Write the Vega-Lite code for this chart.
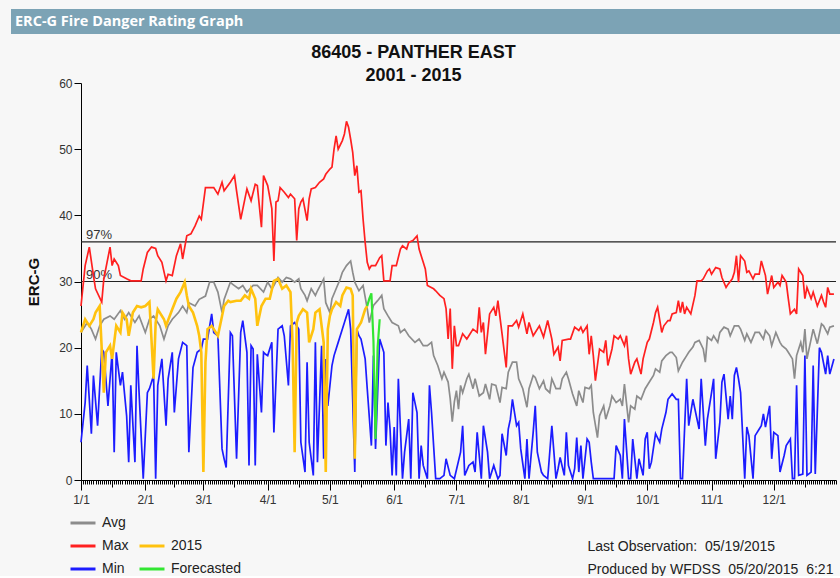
{
"$schema": "https://vega.github.io/schema/vega-lite/v6.json",
"background": "#f7f7f7",
"padding": {"left": 11, "top": 9, "right": 0, "bottom": 0},
"spacing": 10,
"datasets": {
"avg": [{"d":0,"v":22.3},{"d":3,"v":23.8},{"d":5,"v":22.8},{"d":7,"v":21.3},{"d":9,"v":23.3},{"d":11,"v":24.3},{"d":14,"v":24.8},{"d":16,"v":24.3},{"d":19,"v":25.6},{"d":21,"v":24.3},{"d":23,"v":25.3},{"d":26,"v":23.8},{"d":28,"v":24.8},{"d":31,"v":22.3},{"d":33,"v":24.3},{"d":35,"v":24.8},{"d":38,"v":23.3},{"d":40,"v":21.3},{"d":42,"v":23.3},{"d":44,"v":24.3},{"d":47,"v":25.3},{"d":49,"v":26.3},{"d":51,"v":25.3},{"d":52,"v":26.8},{"d":55,"v":26.3},{"d":57,"v":27.3},{"d":60,"v":27.8},{"d":62,"v":29.9},{"d":64,"v":29.9},{"d":66,"v":28.4},{"d":68,"v":25.3},{"d":69,"v":27.3},{"d":72,"v":29.9},{"d":73,"v":29.6},{"d":76,"v":28.9},{"d":78,"v":29.4},{"d":80,"v":28.4},{"d":83,"v":29.4},{"d":85,"v":29.4},{"d":88,"v":28.4},{"d":90,"v":29.9},{"d":92,"v":28.9},{"d":93,"v":29.4},{"d":95,"v":30.6},{"d":97,"v":29.9},{"d":99,"v":30.6},{"d":101,"v":30.4},{"d":103,"v":29.9},{"d":105,"v":30.4},{"d":106,"v":28.9},{"d":108,"v":27.9},{"d":109,"v":27.1},{"d":111,"v":28.9},{"d":113,"v":27.9},{"d":114,"v":28.6},{"d":117,"v":30.4},{"d":118,"v":26.8},{"d":120,"v":25.3},{"d":121,"v":27.4},{"d":123,"v":28.9},{"d":125,"v":30.4},{"d":126,"v":31.4},{"d":128,"v":32.4},{"d":130,"v":33.1},{"d":131,"v":31.4},{"d":132,"v":29.9},{"d":134,"v":28.6},{"d":136,"v":29.4},{"d":138,"v":25.9},{"d":139,"v":23.8},{"d":141,"v":26.4},{"d":143,"v":27.1},{"d":145,"v":27.9},{"d":146,"v":25.9},{"d":148,"v":24.8},{"d":150,"v":23.8},{"d":153,"v":23.3},{"d":154,"v":22.3},{"d":156,"v":22.8},{"d":158,"v":21.8},{"d":161,"v":20.8},{"d":163,"v":21.3},{"d":165,"v":20.3},{"d":167,"v":20.3},{"d":169,"v":20.8},{"d":170,"v":18.8},{"d":172,"v":17.3},{"d":174,"v":15.3},{"d":175,"v":16.3},{"d":177,"v":14.8},{"d":178,"v":12.3},{"d":179,"v":8.8},{"d":180,"v":11.8},{"d":181,"v":13.5},{"d":182,"v":10.7},{"d":183,"v":14.3},{"d":184,"v":13.2},{"d":186,"v":15.3},{"d":187,"v":16.0},{"d":189,"v":13.8},{"d":190,"v":15.3},{"d":192,"v":12.7},{"d":194,"v":13.2},{"d":195,"v":14.5},{"d":197,"v":12.2},{"d":198,"v":14.5},{"d":200,"v":14.3},{"d":202,"v":11.7},{"d":203,"v":14.0},{"d":205,"v":13.8},{"d":206,"v":16.3},{"d":208,"v":17.8},{"d":210,"v":17.8},{"d":211,"v":15.3},{"d":213,"v":13.8},{"d":215,"v":11.0},{"d":216,"v":13.8},{"d":218,"v":15.8},{"d":219,"v":15.5},{"d":221,"v":13.8},{"d":223,"v":15.0},{"d":224,"v":13.8},{"d":226,"v":13.2},{"d":227,"v":15.3},{"d":229,"v":13.8},{"d":231,"v":13.8},{"d":232,"v":15.3},{"d":234,"v":16.3},{"d":235,"v":15.3},{"d":237,"v":13.0},{"d":239,"v":11.2},{"d":240,"v":13.5},{"d":242,"v":11.7},{"d":243,"v":14.0},{"d":245,"v":13.8},{"d":246,"v":14.3},{"d":247,"v":10.2},{"d":249,"v":6.4},{"d":250,"v":9.7},{"d":252,"v":11.2},{"d":253,"v":9.2},{"d":255,"v":11.2},{"d":256,"v":12.7},{"d":258,"v":11.7},{"d":260,"v":12.2},{"d":261,"v":11.2},{"d":262,"v":14.5},{"d":264,"v":8.7},{"d":265,"v":11.2},{"d":267,"v":10.7},{"d":268,"v":12.7},{"d":270,"v":12.2},{"d":272,"v":13.8},{"d":274,"v":14.8},{"d":276,"v":15.8},{"d":277,"v":16.8},{"d":279,"v":16.3},{"d":280,"v":18.0},{"d":282,"v":18.8},{"d":284,"v":19.3},{"d":285,"v":19.3},{"d":287,"v":18.5},{"d":288,"v":16.5},{"d":290,"v":17.8},{"d":292,"v":18.8},{"d":293,"v":19.3},{"d":295,"v":20.1},{"d":296,"v":20.8},{"d":298,"v":21.1},{"d":300,"v":19.8},{"d":301,"v":17.8},{"d":302,"v":21.6},{"d":304,"v":21.1},{"d":305,"v":21.8},{"d":307,"v":20.8},{"d":308,"v":22.3},{"d":310,"v":23.1},{"d":312,"v":22.8},{"d":313,"v":21.8},{"d":315,"v":23.3},{"d":317,"v":23.3},{"d":318,"v":22.8},{"d":320,"v":21.1},{"d":321,"v":22.1},{"d":323,"v":20.8},{"d":325,"v":22.3},{"d":327,"v":22.3},{"d":329,"v":21.3},{"d":330,"v":22.6},{"d":332,"v":21.8},{"d":333,"v":20.3},{"d":335,"v":22.3},{"d":337,"v":20.8},{"d":338,"v":20.3},{"d":340,"v":19.8},{"d":341,"v":19.3},{"d":343,"v":18.3},{"d":344,"v":15.3},{"d":345,"v":18.8},{"d":347,"v":20.8},{"d":348,"v":19.3},{"d":349,"v":22.8},{"d":350,"v":18.3},{"d":352,"v":21.3},{"d":353,"v":22.8},{"d":355,"v":20.6},{"d":357,"v":23.6},{"d":358,"v":23.3},{"d":360,"v":22.1},{"d":361,"v":23.1},{"d":363,"v":23.3}],
"max": [{"d":0,"v":26.3},{"d":2,"v":32.4},{"d":4,"v":35.2},{"d":6,"v":30.9},{"d":7,"v":28.9},{"d":10,"v":26.9},{"d":11,"v":30.4},{"d":14,"v":35.2},{"d":15,"v":32.4},{"d":16,"v":33.4},{"d":18,"v":32.4},{"d":19,"v":30.9},{"d":22,"v":30.4},{"d":24,"v":30.1},{"d":29,"v":30.1},{"d":30,"v":31.9},{"d":32,"v":34.4},{"d":34,"v":35.2},{"d":36,"v":35.0},{"d":37,"v":33.9},{"d":39,"v":32.9},{"d":41,"v":30.1},{"d":42,"v":31.1},{"d":44,"v":30.9},{"d":46,"v":33.9},{"d":48,"v":35.7},{"d":49,"v":33.4},{"d":51,"v":36.9},{"d":53,"v":37.2},{"d":55,"v":38.4},{"d":57,"v":39.9},{"d":58,"v":39.4},{"d":60,"v":44.2},{"d":63,"v":44.2},{"d":64,"v":44.2},{"d":66,"v":43.2},{"d":68,"v":45.0},{"d":69,"v":43.7},{"d":72,"v":45.0},{"d":74,"v":46.0},{"d":75,"v":43.7},{"d":77,"v":39.4},{"d":80,"v":44.0},{"d":82,"v":42.2},{"d":84,"v":44.7},{"d":85,"v":44.5},{"d":87,"v":38.2},{"d":88,"v":46.0},{"d":90,"v":44.5},{"d":92,"v":41.0},{"d":93,"v":33.1},{"d":94,"v":42.0},{"d":95,"v":42.2},{"d":96,"v":44.2},{"d":98,"v":43.5},{"d":100,"v":42.7},{"d":101,"v":43.2},{"d":103,"v":42.5},{"d":104,"v":36.2},{"d":105,"v":41.0},{"d":106,"v":42.0},{"d":107,"v":42.5},{"d":109,"v":39.2},{"d":110,"v":42.5},{"d":111,"v":44.0},{"d":113,"v":44.2},{"d":115,"v":45.0},{"d":117,"v":45.5},{"d":118,"v":46.2},{"d":120,"v":47.0},{"d":121,"v":47.3},{"d":122,"v":50.0},{"d":123,"v":52.0},{"d":124,"v":50.0},{"d":126,"v":51.3},{"d":127,"v":52.3},{"d":128,"v":54.2},{"d":129,"v":53.3},{"d":130,"v":51.5},{"d":131,"v":49.5},{"d":132,"v":46.0},{"d":133,"v":47.5},{"d":134,"v":43.5},{"d":135,"v":43.7},{"d":136,"v":39.4},{"d":137,"v":35.9},{"d":138,"v":32.9},{"d":139,"v":31.9},{"d":140,"v":32.4},{"d":142,"v":32.4},{"d":144,"v":33.6},{"d":145,"v":33.9},{"d":146,"v":30.1},{"d":149,"v":30.1},{"d":150,"v":32.4},{"d":152,"v":32.4},{"d":154,"v":34.9},{"d":155,"v":35.4},{"d":157,"v":34.9},{"d":158,"v":35.9},{"d":160,"v":36.2},{"d":162,"v":36.9},{"d":163,"v":34.9},{"d":165,"v":32.9},{"d":166,"v":31.9},{"d":167,"v":29.4},{"d":170,"v":28.9},{"d":171,"v":28.6},{"d":173,"v":27.9},{"d":175,"v":27.4},{"d":176,"v":25.9},{"d":177,"v":21.3},{"d":178,"v":25.9},{"d":179,"v":16.8},{"d":180,"v":23.3},{"d":181,"v":20.3},{"d":182,"v":20.3},{"d":184,"v":22.1},{"d":186,"v":21.3},{"d":187,"v":21.8},{"d":189,"v":22.8},{"d":191,"v":22.3},{"d":192,"v":26.1},{"d":193,"v":22.3},{"d":194,"v":23.8},{"d":195,"v":19.0},{"d":197,"v":25.1},{"d":199,"v":26.1},{"d":200,"v":24.8},{"d":201,"v":27.1},{"d":203,"v":22.1},{"d":205,"v":17.0},{"d":206,"v":23.3},{"d":208,"v":23.3},{"d":210,"v":24.1},{"d":211,"v":23.1},{"d":213,"v":25.1},{"d":215,"v":22.1},{"d":216,"v":23.8},{"d":218,"v":21.8},{"d":219,"v":22.3},{"d":221,"v":23.3},{"d":223,"v":21.6},{"d":225,"v":24.1},{"d":227,"v":21.3},{"d":228,"v":19.0},{"d":230,"v":20.1},{"d":231,"v":18.0},{"d":232,"v":21.1},{"d":235,"v":21.3},{"d":236,"v":21.3},{"d":238,"v":23.1},{"d":240,"v":22.6},{"d":241,"v":23.1},{"d":242,"v":22.3},{"d":244,"v":23.3},{"d":245,"v":19.0},{"d":246,"v":21.8},{"d":247,"v":18.8},{"d":248,"v":15.0},{"d":250,"v":19.8},{"d":252,"v":19.3},{"d":253,"v":21.1},{"d":254,"v":17.3},{"d":256,"v":19.8},{"d":257,"v":21.8},{"d":259,"v":21.3},{"d":260,"v":21.8},{"d":262,"v":20.3},{"d":263,"v":21.8},{"d":264,"v":18.3},{"d":265,"v":16.0},{"d":267,"v":17.8},{"d":268,"v":18.3},{"d":270,"v":16.0},{"d":271,"v":18.3},{"d":273,"v":20.8},{"d":274,"v":21.3},{"d":276,"v":23.8},{"d":277,"v":25.3},{"d":278,"v":26.1},{"d":280,"v":22.3},{"d":281,"v":23.3},{"d":283,"v":24.1},{"d":284,"v":24.1},{"d":285,"v":25.1},{"d":287,"v":25.3},{"d":288,"v":27.1},{"d":289,"v":25.3},{"d":290,"v":26.9},{"d":291,"v":25.1},{"d":292,"v":26.1},{"d":294,"v":25.1},{"d":296,"v":27.9},{"d":297,"v":30.1},{"d":299,"v":30.1},{"d":300,"v":30.4},{"d":302,"v":31.6},{"d":303,"v":31.9},{"d":304,"v":31.1},{"d":306,"v":32.1},{"d":308,"v":31.9},{"d":309,"v":30.6},{"d":311,"v":29.1},{"d":312,"v":29.6},{"d":314,"v":30.4},{"d":315,"v":31.4},{"d":316,"v":33.9},{"d":317,"v":29.9},{"d":318,"v":33.9},{"d":320,"v":33.1},{"d":321,"v":31.4},{"d":322,"v":31.6},{"d":324,"v":30.4},{"d":325,"v":31.1},{"d":327,"v":31.1},{"d":328,"v":33.1},{"d":330,"v":30.9},{"d":331,"v":28.1},{"d":333,"v":30.9},{"d":334,"v":29.1},{"d":336,"v":29.9},{"d":337,"v":29.4},{"d":338,"v":30.9},{"d":340,"v":29.9},{"d":341,"v":27.4},{"d":342,"v":25.1},{"d":344,"v":25.8},{"d":345,"v":25.1},{"d":346,"v":31.9},{"d":348,"v":30.9},{"d":349,"v":27.4},{"d":350,"v":29.1},{"d":352,"v":27.4},{"d":353,"v":28.4},{"d":355,"v":26.3},{"d":357,"v":27.9},{"d":358,"v":26.9},{"d":359,"v":26.1},{"d":360,"v":29.1},{"d":361,"v":28.1},{"d":363,"v":28.1}],
"min": [{"d":0,"v":5.7},{"d":2,"v":11.7},{"d":3,"v":17.3},{"d":5,"v":7.0},{"d":6,"v":15.8},{"d":8,"v":8.2},{"d":10,"v":19.8},{"d":11,"v":19.3},{"d":13,"v":11.2},{"d":15,"v":19.3},{"d":16,"v":4.2},{"d":17,"v":19.3},{"d":19,"v":14.3},{"d":20,"v":16.3},{"d":22,"v":9.7},{"d":23,"v":2.7},{"d":24,"v":14.3},{"d":26,"v":2.7},{"d":27,"v":20.3},{"d":28,"v":13.2},{"d":30,"v":0.2},{"d":32,"v":13.2},{"d":33,"v":13.8},{"d":35,"v":15.8},{"d":36,"v":0.2},{"d":37,"v":14.3},{"d":39,"v":18.3},{"d":41,"v":8.2},{"d":42,"v":15.3},{"d":44,"v":19.3},{"d":45,"v":10.2},{"d":47,"v":18.3},{"d":49,"v":20.8},{"d":51,"v":20.3},{"d":52,"v":4.2},{"d":54,"v":17.0},{"d":56,"v":19.3},{"d":58,"v":19.8},{"d":59,"v":21.3},{"d":61,"v":21.3},{"d":63,"v":25.1},{"d":64,"v":22.3},{"d":66,"v":21.8},{"d":68,"v":4.7},{"d":69,"v":3.2},{"d":70,"v":1.9},{"d":72,"v":22.3},{"d":73,"v":21.8},{"d":75,"v":3.2},{"d":77,"v":22.3},{"d":78,"v":24.1},{"d":80,"v":19.3},{"d":81,"v":2.2},{"d":82,"v":20.3},{"d":83,"v":19.8},{"d":84,"v":2.2},{"d":85,"v":19.0},{"d":87,"v":10.2},{"d":88,"v":19.3},{"d":89,"v":19.0},{"d":90,"v":18.8},{"d":92,"v":20.8},{"d":93,"v":7.2},{"d":95,"v":22.8},{"d":97,"v":23.3},{"d":98,"v":21.8},{"d":100,"v":14.3},{"d":101,"v":23.3},{"d":103,"v":23.8},{"d":105,"v":22.8},{"d":106,"v":5.7},{"d":108,"v":1.2},{"d":109,"v":17.8},{"d":110,"v":5.7},{"d":112,"v":0.7},{"d":113,"v":20.8},{"d":114,"v":2.7},{"d":116,"v":20.3},{"d":117,"v":3.2},{"d":118,"v":18.3},{"d":119,"v":11.2},{"d":121,"v":17.3},{"d":122,"v":18.8},{"d":124,"v":20.8},{"d":125,"v":21.8},{"d":127,"v":23.8},{"d":129,"v":25.8},{"d":130,"v":22.8},{"d":132,"v":1.2},{"d":133,"v":22.8},{"d":134,"v":21.8},{"d":135,"v":21.3},{"d":137,"v":18.3},{"d":138,"v":13.8},{"d":140,"v":5.2},{"d":141,"v":18.8},{"d":142,"v":4.7},{"d":144,"v":21.3},{"d":146,"v":19.3},{"d":147,"v":5.2},{"d":148,"v":11.7},{"d":149,"v":7.7},{"d":150,"v":0.7},{"d":151,"v":8.0},{"d":152,"v":0.7},{"d":153,"v":15.3},{"d":155,"v":0.2},{"d":156,"v":4.2},{"d":158,"v":9.2},{"d":159,"v":0.2},{"d":160,"v":13.2},{"d":162,"v":10.2},{"d":163,"v":0.2},{"d":164,"v":5.2},{"d":165,"v":2.2},{"d":167,"v":0.2},{"d":168,"v":14.3},{"d":169,"v":10.2},{"d":171,"v":0.2},{"d":173,"v":0.2},{"d":175,"v":0.7},{"d":176,"v":3.2},{"d":178,"v":0.7},{"d":180,"v":0.2},{"d":183,"v":4.2},{"d":184,"v":8.2},{"d":185,"v":0.7},{"d":187,"v":2.2},{"d":189,"v":2.7},{"d":190,"v":1.2},{"d":191,"v":7.2},{"d":193,"v":0.2},{"d":194,"v":8.2},{"d":196,"v":4.2},{"d":197,"v":0.2},{"d":199,"v":2.2},{"d":201,"v":0.2},{"d":202,"v":0.7},{"d":203,"v":7.0},{"d":205,"v":3.7},{"d":206,"v":7.7},{"d":207,"v":9.2},{"d":208,"v":12.2},{"d":210,"v":8.2},{"d":211,"v":8.7},{"d":212,"v":4.7},{"d":214,"v":0.2},{"d":215,"v":6.2},{"d":216,"v":0.2},{"d":218,"v":7.2},{"d":219,"v":11.2},{"d":220,"v":4.2},{"d":222,"v":1.2},{"d":223,"v":0.7},{"d":225,"v":0.2},{"d":227,"v":8.2},{"d":229,"v":0.2},{"d":230,"v":1.7},{"d":231,"v":3.4},{"d":233,"v":0.7},{"d":234,"v":7.2},{"d":235,"v":2.2},{"d":237,"v":0.2},{"d":238,"v":1.7},{"d":239,"v":6.4},{"d":240,"v":1.2},{"d":241,"v":5.2},{"d":242,"v":0.2},{"d":244,"v":6.2},{"d":245,"v":5.7},{"d":246,"v":2.7},{"d":247,"v":0.2},{"d":257,"v":0.2},{"d":258,"v":5.2},{"d":260,"v":3.7},{"d":261,"v":0.2},{"d":262,"v":9.2},{"d":264,"v":0.2},{"d":265,"v":0.2},{"d":266,"v":6.2},{"d":268,"v":0.2},{"d":269,"v":3.2},{"d":271,"v":0.7},{"d":272,"v":6.2},{"d":273,"v":7.2},{"d":274,"v":1.7},{"d":275,"v":2.7},{"d":277,"v":7.0},{"d":279,"v":5.7},{"d":280,"v":7.7},{"d":282,"v":10.2},{"d":283,"v":12.2},{"d":285,"v":13.0},{"d":287,"v":12.2},{"d":288,"v":12.2},{"d":289,"v":0.2},{"d":290,"v":0.2},{"d":292,"v":15.3},{"d":293,"v":8.2},{"d":295,"v":12.2},{"d":296,"v":10.7},{"d":298,"v":7.7},{"d":299,"v":15.3},{"d":301,"v":5.2},{"d":302,"v":9.2},{"d":304,"v":13.2},{"d":305,"v":15.3},{"d":306,"v":3.2},{"d":308,"v":8.7},{"d":309,"v":14.8},{"d":310,"v":16.0},{"d":312,"v":9.2},{"d":313,"v":12.7},{"d":314,"v":9.2},{"d":315,"v":15.8},{"d":316,"v":17.0},{"d":317,"v":15.3},{"d":318,"v":13.2},{"d":320,"v":0.2},{"d":321,"v":8.0},{"d":322,"v":6.7},{"d":324,"v":0.2},{"d":325,"v":6.7},{"d":327,"v":7.7},{"d":328,"v":8.2},{"d":329,"v":10.0},{"d":330,"v":8.0},{"d":332,"v":11.2},{"d":333,"v":3.2},{"d":334,"v":7.2},{"d":336,"v":6.7},{"d":337,"v":1.2},{"d":339,"v":3.7},{"d":340,"v":5.2},{"d":342,"v":6.2},{"d":343,"v":0.2},{"d":344,"v":0.2},{"d":345,"v":14.3},{"d":346,"v":0.7},{"d":348,"v":0.9},{"d":349,"v":18.8},{"d":350,"v":0.7},{"d":352,"v":1.2},{"d":353,"v":17.3},{"d":354,"v":0.9},{"d":356,"v":20.0},{"d":357,"v":19.3},{"d":359,"v":16.0},{"d":360,"v":18.8},{"d":361,"v":16.0},{"d":363,"v":18.3}],
"y2015": [{"d":0,"v":22.3},{"d":2,"v":24.3},{"d":4,"v":23.3},{"d":6,"v":24.3},{"d":7,"v":25.3},{"d":9,"v":26.3},{"d":11,"v":13.2},{"d":12,"v":19.3},{"d":14,"v":20.3},{"d":15,"v":18.3},{"d":17,"v":23.3},{"d":19,"v":22.3},{"d":20,"v":25.3},{"d":22,"v":24.3},{"d":23,"v":21.8},{"d":25,"v":25.3},{"d":27,"v":26.3},{"d":29,"v":26.1},{"d":31,"v":26.3},{"d":33,"v":26.9},{"d":35,"v":15.3},{"d":36,"v":23.8},{"d":37,"v":25.8},{"d":40,"v":24.3},{"d":41,"v":23.3},{"d":44,"v":25.8},{"d":46,"v":27.4},{"d":48,"v":28.4},{"d":50,"v":29.9},{"d":51,"v":27.9},{"d":52,"v":26.3},{"d":54,"v":25.3},{"d":56,"v":23.3},{"d":57,"v":21.8},{"d":58,"v":19.3},{"d":59,"v":1.2},{"d":60,"v":17.8},{"d":61,"v":22.8},{"d":63,"v":23.3},{"d":64,"v":22.8},{"d":66,"v":21.8},{"d":68,"v":24.8},{"d":69,"v":26.3},{"d":71,"v":27.1},{"d":72,"v":26.9},{"d":75,"v":27.1},{"d":77,"v":27.1},{"d":79,"v":27.9},{"d":81,"v":27.4},{"d":82,"v":28.9},{"d":84,"v":27.4},{"d":85,"v":23.3},{"d":87,"v":26.3},{"d":89,"v":27.4},{"d":91,"v":27.4},{"d":93,"v":30.1},{"d":95,"v":30.4},{"d":97,"v":28.9},{"d":99,"v":29.4},{"d":101,"v":28.4},{"d":102,"v":20.8},{"d":103,"v":4.2},{"d":104,"v":23.8},{"d":105,"v":24.8},{"d":107,"v":25.8},{"d":109,"v":25.3},{"d":110,"v":20.8},{"d":112,"v":22.8},{"d":113,"v":25.3},{"d":115,"v":25.8},{"d":117,"v":20.8},{"d":118,"v":1.2},{"d":119,"v":22.8},{"d":120,"v":24.8},{"d":121,"v":25.8},{"d":123,"v":26.9},{"d":125,"v":26.3},{"d":126,"v":27.9},{"d":128,"v":29.1},{"d":130,"v":28.9},{"d":131,"v":27.9},{"d":132,"v":3.2},{"d":133,"v":22.8},{"d":134,"v":23.3},{"d":135,"v":23.8},{"d":137,"v":25.8},{"d":138,"v":26.3}],
"fcst": [{"d":138,"v":26.3},{"d":139,"v":27.4},{"d":140,"v":28.2},{"d":141,"v":21.0},{"d":142,"v":6.2},{"d":143,"v":20.0},{"d":144,"v":24.3}],
"pct": [{"v":36,"lab":"97%"},{"v":30,"lab":"90%"}]
},
"vconcat": [
{
"width": 829, "height": 25,
"view": {"fill": "#7ca3b5", "stroke": null},
"data": {"values": [{"t": "ERC-G Fire Danger Rating Graph"}]},
"mark": {"type": "text", "align": "left", "baseline": "middle", "dx": 4, "color": "#ffffff", "font": "Open Sans", "fontSize": 14.5, "fontWeight": "bold"},
"encoding": {
"text": {"field": "t"},
"x": {"datum": 0, "type": "quantitative", "scale": {"domain": [0, 1]}, "axis": null},
"y": {"datum": 0.5, "type": "quantitative", "scale": {"domain": [0, 1]}, "axis": null}
}
},
{
"spacing": 14,
"hconcat": [
{"width": 1, "height": 1, "data": {"values": []}, "mark": "point"},
{
"width": 755, "height": 397,
"title": {"text": ["86405 - PANTHER EAST", "2001 - 2015"], "font": "Liberation Sans", "fontSize": 18, "fontWeight": "bold", "color": "#111111", "lineHeight": 23, "anchor": "middle", "dx": -45, "offset": -8},
"encoding": {
"y": {"field": "v", "type": "quantitative", "scale": {"domain": [0, 60], "nice": false},
"axis": {"values": [0, 10, 20, 30, 40, 50, 60], "title": "ERC-G", "titleFont": "Liberation Sans", "titleFontSize": 15, "titleFontWeight": "bold", "titleColor": "#111111", "titlePadding": 17, "tickSize": 7, "labelPadding": 2, "labelFontSize": 12, "labelColor": "#333333", "domainColor": "#000000", "tickColor": "#000000", "grid": false}}
},
"layer": [
{"data": {"name": "pct"}, "mark": {"type": "rule", "color": "#222222", "strokeWidth": 1.2}, "encoding": {}},
{"data": {"name": "pct"}, "mark": {"type": "text", "align": "left", "baseline": "alphabetic", "dx": 5, "dy": -3, "fontSize": 13, "font": "Liberation Sans", "color": "#333333"},
"encoding": {"x": {"datum": 0, "type": "quantitative", "axis": null}, "text": {"field": "lab"}}},
{"data": {"name": "avg"}, "mark": {"type": "line", "strokeWidth": 1.7},
"encoding": {
"x": {"field": "d", "type": "quantitative", "scale": {"domain": [0, 364], "nice": false, "zero": false},
"axis": {"orient": "bottom", "values": [0, 31, 59, 90, 120, 151, 181, 212, 243, 273, 304, 334], "labelExpr": "(indexof([0,31,59,90,120,151,181,212,243,273,304,334], datum.value) + 1) + '/1'", "tickSize": 10, "labelPadding": 4, "labelFontSize": 12, "labelColor": "#333333", "labelFlush": false, "labelOverlap": false, "domainColor": "#000000", "tickColor": "#000000", "grid": false,
"title": ["Last Observation:\u00a0 05/19/2015", "Produced by WFDSS\u00a0 05/20/2015\u00a0 6:21"], "titleFont": "Liberation Sans", "titleFontSize": 14, "titleFontWeight": "normal", "titleColor": "#222222", "titleAlign": "left", "titleAnchor": "start", "titleX": 506, "titleY": 59, "titleBaseline": "top", "titleLineHeight": 23}},
"color": {"datum": "Avg", "type": "nominal",
"scale": {"domain": ["Avg", "Max", "Min", " ", "2015", "Forecasted"], "range": ["#8c8c8c", "#ff2020", "#1c1cff", "transparent", "#ffc20e", "#33e633"]},
"legend": {"orient": "none", "legendX": 58, "legendY": 500, "columns": 2, "columnPadding": 4, "rowPadding": 2, "title": null, "symbolType": "stroke", "symbolSize": 625, "symbolStrokeWidth": 3, "labelFont": "Liberation Sans", "labelFontSize": 14, "labelColor": "#222222", "labelOffset": 5, "padding": 0}}
}},
{"data": {"name": "max"}, "mark": {"type": "line", "strokeWidth": 1.7},
"encoding": {
"x": {"field": "d", "type": "quantitative", "axis": {"orient": "bottom", "tickCount": 364, "labels": false, "domain": false, "tickSize": 4, "tickColor": "#000000", "grid": false, "title": null}},
"color": {"datum": "Max", "type": "nominal"}
}},
{"data": {"name": "min"}, "mark": {"type": "line", "strokeWidth": 1.7},
"encoding": {
"x": {"field": "d", "type": "quantitative", "axis": {"orient": "bottom", "values": [15, 45, 74, 105, 135, 166, 196, 227, 258, 288, 319, 349], "labels": false, "domain": false, "tickSize": 7, "tickColor": "#000000", "grid": false, "title": null}},
"color": {"datum": "Min", "type": "nominal"}
}},
{"data": {"name": "y2015"}, "mark": {"type": "line", "strokeWidth": 2.6},
"encoding": {
"x": {"field": "d", "type": "quantitative", "axis": null},
"color": {"datum": "2015", "type": "nominal"}
}},
{"data": {"name": "fcst"}, "mark": {"type": "line", "strokeWidth": 2.2},
"encoding": {
"x": {"field": "d", "type": "quantitative", "axis": null},
"color": {"datum": "Forecasted", "type": "nominal"}
}}
],
"resolve": {"axis": {"x": "independent"}}
}
]
}
],
"config": {
"view": {"stroke": null},
"font": "Liberation Sans",
"axis": {"labelFont": "Liberation Sans", "grid": false}
}
}
